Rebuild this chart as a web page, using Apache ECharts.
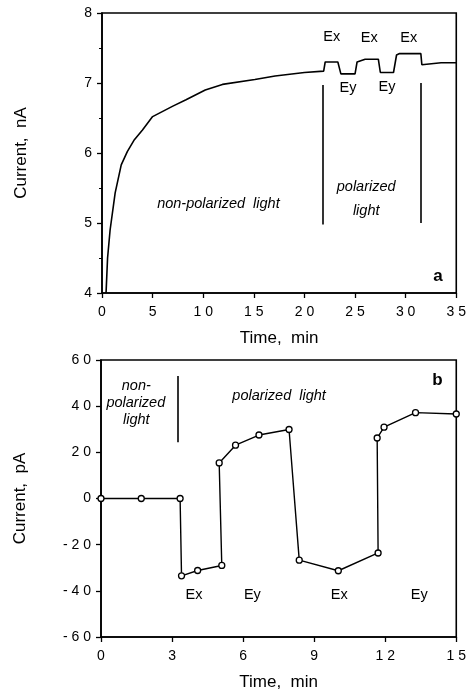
<!DOCTYPE html>
<html><head><meta charset="utf-8">
<script src="https://cdn.jsdelivr.net/npm/echarts@6/dist/echarts.min.js"></script>
<style>html,body{margin:0;padding:0;background:#fff}#c{width:469px;height:692px}</style>
</head><body><div id="c"></div>
<script>
// Panel a: photocurrent (nA) vs time (min)
const aTime = [0.4,0.55,0.8,1.3,1.9,2.5,3.2,4.0,5.0,7.0,8.3,10.2,11.9,15.1,17.1,20.0,21.9,22.05,23.3,23.6,25.0,25.2,26.0,27.3,27.5,28.8,29.1,29.4,31.5,31.6,33.5,35.0];
const aCurrent = [4.0,4.5,4.9,5.43,5.83,6.02,6.19,6.33,6.52,6.67,6.76,6.9,6.98,7.05,7.1,7.15,7.17,7.3,7.3,7.13,7.13,7.3,7.34,7.34,7.15,7.15,7.4,7.42,7.42,7.26,7.29,7.29];
// Panel b: photocurrent (pA) vs time (min)
const bTime = [0,1.7,3.34,3.4,4.08,5.1,4.99,5.68,6.67,7.94,8.37,10.02,11.7,11.66,11.95,13.28,15.0];
const bCurrent = [0,0,0,-33.5,-31.2,-29,15.4,23.1,27.5,29.9,-26.7,-31.3,-23.6,26.2,30.9,37.2,36.6];
// Tick settings
const aXTicks = {min:0,max:35,interval:5};
const aYTicks = {min:4,max:8,interval:1};
const bXTicks = {min:0,max:15,interval:3};
const bYTicks = {min:-60,max:60,interval:20};
// Annotations
const aLabels = [
  {text:'non-polarized  light', x:11.5, y:5.27, italic:true},
  {text:'polarized', x:26.1, y:5.51, italic:true},
  {text:'light', x:26.1, y:5.17, italic:true},
  {text:'Ex', x:22.7, y:7.66}, {text:'Ex', x:26.4, y:7.64}, {text:'Ex', x:30.3, y:7.64},
  {text:'Ey', x:24.3, y:6.93}, {text:'Ey', x:28.15, y:6.94},
  {text:'a', x:33.2, y:4.24, bold:true}
];
const aMarkers = [{x:21.8, y0:4.98, y1:6.97},{x:31.5, y0:5.0, y1:7.0}];
const bLabels = [
  {text:'non-', x:1.49, y:48.8, italic:true},
  {text:'polarized', x:1.47, y:41.6, italic:true},
  {text:'light', x:1.49, y:34.2, italic:true},
  {text:'polarized  light', x:7.52, y:44.5, italic:true},
  {text:'b', x:14.2, y:51.1, bold:true},
  {text:'Ex', x:3.93, y:-41.8}, {text:'Ey', x:6.39, y:-41.8},
  {text:'Ex', x:10.06, y:-41.8}, {text:'Ey', x:13.44, y:-41.8}
];
const bMarkers = [{x:3.23, y0:24.4, y1:53.1}];

const FONT = '"Liberation Sans", Arial, sans-serif';
const spaced = v => String(v).split('').join(' ');
function xAxis(idx, t){
  return {type:'value', gridIndex:idx, min:t.min, max:t.max, interval:t.interval,
    name:'Time,  min', nameLocation:'middle', nameGap:37,
    nameTextStyle:{fontFamily:FONT,fontSize:17,color:'#000'},
    axisLine:{show:true,onZero:false,lineStyle:{color:'#000',width:1.6}},
    axisTick:{show:true,length:5,inside:false,lineStyle:{color:'#000',width:1.3}},
    axisLabel:{fontFamily:FONT,fontSize:14,color:'#000',margin:12,formatter:spaced},
    splitLine:{show:false}};
}
function yAxis(idx, t, name, minor){
  return {type:'value', gridIndex:idx, min:t.min, max:t.max, interval:t.interval,
    name:name, nameLocation:'middle', nameGap:72, nameRotate:90,
    nameTextStyle:{fontFamily:FONT,fontSize:17,color:'#000'},
    axisLine:{show:true,onZero:false,lineStyle:{color:'#000',width:1.6}},
    axisTick:{show:true,length:5,inside:false,lineStyle:{color:'#000',width:1.3}},
    minorTick:{show:minor,splitNumber:2,length:3,lineStyle:{color:'#000',width:1}},
    axisLabel:{fontFamily:FONT,fontSize:14,color:'#000',margin:10,formatter:spaced},
    splitLine:{show:false}};
}
function labelSeries(idx, labels, markers){
  return {type:'scatter', xAxisIndex:idx, yAxisIndex:idx, symbolSize:0, silent:true,
    itemStyle:{opacity:1},
    data: labels.map(l=>({value:[l.x,l.y], name:l.text,
      label:{show:true, position:'inside', formatter:l.text, fontFamily:FONT,
        fontSize: l.bold?17:14.5, fontStyle:l.italic?'italic':'normal',
        fontWeight:l.bold?'bold':'normal', color:'#000', opacity:1}})),
    markLine:{silent:true, symbol:['none','none'], label:{show:false},
      lineStyle:{color:'#000',width:1.6,type:'solid',opacity:1},
      data: markers.map(m=>[{coord:[m.x,m.y0]},{coord:[m.x,m.y1]}])}
  };
}
const chart = echarts.init(document.getElementById('c'), null, {renderer:'canvas'});
chart.setOption({
  animation:false,
  backgroundColor:'#fff',
  grid:[
    {left:102, right:9, top:13, height:280, show:true, borderColor:'#000', borderWidth:1.6},
    {left:101, right:9, top:360, height:279, show:true, borderColor:'#000', borderWidth:1.6}
  ],
  xAxis:[xAxis(0,aXTicks), xAxis(1,bXTicks)],
  yAxis:[yAxis(0,aYTicks,'Current,  nA',true), yAxis(1,bYTicks,'Current,  pA',false)],
  series:[
    {type:'line', xAxisIndex:0, yAxisIndex:0, showSymbol:false, symbol:'none',
     lineStyle:{color:'#000',width:1.6}, data:aTime.map((t,i)=>[t,aCurrent[i]])},
    {type:'line', xAxisIndex:1, yAxisIndex:1, symbol:'circle', symbolSize:6, showSymbol:true,
     lineStyle:{color:'#000',width:1.4},
     itemStyle:{color:'#fff',borderColor:'#000',borderWidth:1.3},
     data:bTime.map((t,i)=>[t,bCurrent[i]])},
    labelSeries(0,aLabels,aMarkers),
    labelSeries(1,bLabels,bMarkers)
  ]
});
</script></body></html>
